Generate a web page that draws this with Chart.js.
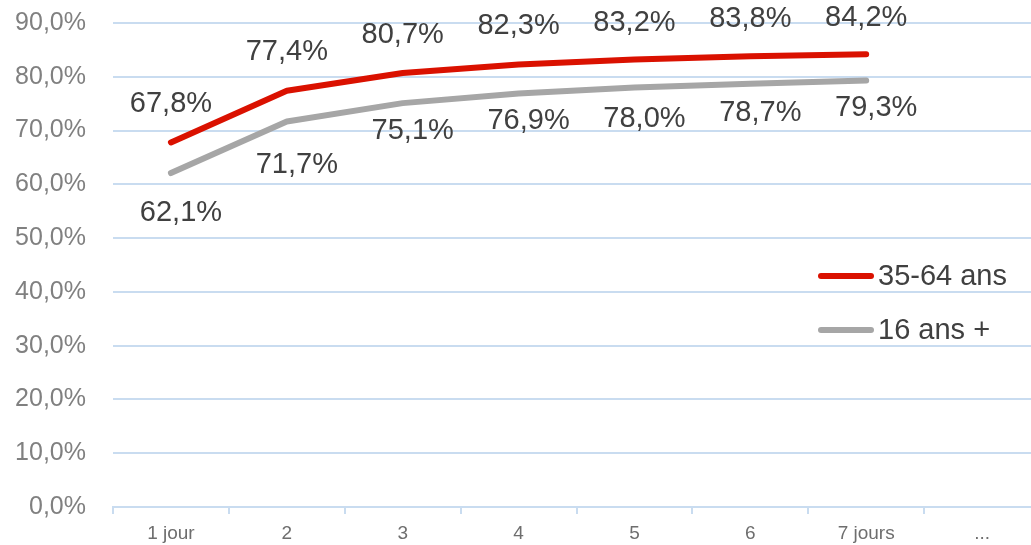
<!DOCTYPE html>
<html>
<head>
<meta charset="utf-8">
<script src="https://cdn.jsdelivr.net/npm/chart.js@4/dist/chart.umd.min.js"></script>
<style>
  html, body { margin: 0; padding: 0; background: #fff; overflow: hidden; }
  #wrap { width: 1040px; height: 545px; }
</style>
</head>
<body>
<div id="wrap"><canvas id="chart" width="1040" height="545"></canvas></div>
<script>
// données
var categories = ['1 jour', '2', '3', '4', '5', '6', '7 jours', '...'];
var serie3564 = [67.8, 77.4, 80.7, 82.3, 83.2, 83.8, 84.2, null];
var serie16 = [62.1, 71.7, 75.1, 76.9, 78.0, 78.7, 79.3, null];
var yTicks = [0, 10, 20, 30, 40, 50, 60, 70, 80, 90];

var FONT = "'Liberation Sans', Arial, sans-serif";

function pct(v) {
    return v.toFixed(1).replace('.', ',') + '%';
}

// étiquettes de valeurs au-dessus / au-dessous des points
var valueLabels = {
    id: 'valueLabels',
    afterDatasetsDraw: function (chart) {
        var ctx = chart.ctx;
        ctx.save();
        ctx.font = '29px ' + FONT;
        ctx.fillStyle = '#404040';
        ctx.textAlign = 'center';
        ctx.textBaseline = 'middle';
        chart.data.datasets.forEach(function (ds, i) {
            var meta = chart.getDatasetMeta(i);
            meta.data.forEach(function (pt, j) {
                var v = ds.data[j];
                if (v == null) return;
                var dx = ds.labelDx || 0;
                var dy = ds.labelDy ? ds.labelDy[j] : -38;
                ctx.fillText(pct(v), pt.x + dx, pt.y + dy);
            });
        });
        ctx.restore();
    }
};

// légende dans la zone du graphique, à droite
var insideLegend = {
    id: 'insideLegend',
    afterDraw: function (chart) {
        var ctx = chart.ctx;
        ctx.save();
        ctx.font = '29px ' + FONT;
        ctx.textBaseline = 'middle';
        ctx.textAlign = 'left';
        ctx.lineCap = 'round';
        var x0 = 818, rows = [276, 330];
        chart.data.datasets.forEach(function (ds, i) {
            var y = rows[i];
            ctx.strokeStyle = ds.borderColor;
            ctx.lineWidth = 6;
            ctx.beginPath();
            ctx.moveTo(x0 + 3, y);
            ctx.lineTo(x0 + 53, y);
            ctx.stroke();
            ctx.fillStyle = '#404040';
            ctx.fillText(ds.label, x0 + 60, y + 1);
        });
        ctx.restore();
    }
};

var ctx = document.getElementById('chart').getContext('2d');
new Chart(ctx, {
    type: 'line',
    data: {
        labels: categories,
        datasets: [
            {
                label: '35-64 ans',
                data: serie3564,
                borderColor: '#da1100',
                backgroundColor: '#da1100',
                borderWidth: 6,
                borderCapStyle: 'round',
                borderJoinStyle: 'round',
                pointRadius: 0,
                tension: 0,
                labelDx: 0,
                labelDy: [-38, -39, -38, -38, -37, -37, -36]
            },
            {
                label: '16 ans +',
                data: serie16,
                borderColor: '#a6a6a6',
                backgroundColor: '#a6a6a6',
                borderWidth: 6,
                borderCapStyle: 'round',
                borderJoinStyle: 'round',
                pointRadius: 0,
                tension: 0,
                labelDx: 10,
                labelDy: [40, 44, 28, 28, 31, 29, 27]
            }
        ]
    },
    options: {
        responsive: false,
        animation: false,
        layout: { padding: { top: 23, right: 0, left: 0, bottom: 0 } },
        plugins: {
            legend: { display: false },
            tooltip: { enabled: false }
        },
        scales: {
            x: {
                offset: true,
                grid: {
                    offset: true,
                    drawOnChartArea: false,
                    color: '#c9dcf0',
                    lineWidth: 2,
                    tickLength: 7
                },
                border: { color: '#c9dcf0', width: 2 },
                ticks: {
                    color: '#6e6e6e',
                    padding: 8,
                    maxRotation: 0,
                    autoSkip: false,
                    font: { family: FONT, size: 19 }
                },
                afterFit: function (s) {
                    s.height = 38;
                    s.paddingLeft = 0;
                    s.paddingRight = 0;
                }
            },
            y: {
                min: 0,
                max: 90,
                afterBuildTicks: function (s) {
                    s.ticks = yTicks.map(function (v) { return { value: v }; });
                },
                grid: {
                    color: '#c9dcf0',
                    lineWidth: 2,
                    drawTicks: true,
                    tickLength: 27,
                    tickColor: 'rgba(0,0,0,0)'
                },
                border: { display: false },
                ticks: {
                    color: '#808080',
                    padding: 0,
                    font: { family: FONT, size: 25 },
                    callback: function (v) { return pct(v); }
                },
                afterFit: function (s) {
                    s.width = 113;
                    s.paddingTop = 0;
                    s.paddingBottom = 0;
                }
            }
        }
    },
    plugins: [valueLabels, insideLegend]
});
</script>
</body>
</html>
